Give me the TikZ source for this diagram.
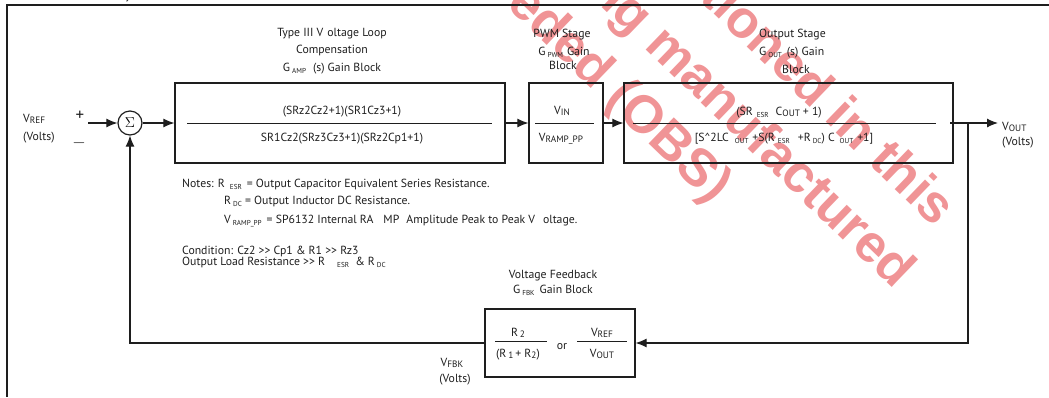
\documentclass[tikz,border=0pt]{standalone}
\usepackage{fontspec}
\setmainfont{PT Sans}
\newfontfamily\wmfont{Liberation Sans}
\usetikzlibrary{arrows.meta}
\definecolor{wmred}{RGB}{240,148,150}
\definecolor{ink}{RGB}{30,30,30}
\newcommand\sbx[1]{\raisebox{-0.45ex}{\fontsize{7.2}{7}\selectfont #1}}
\newcommand\sbm[1]{\raisebox{-0.3ex}{\fontsize{9.3}{9}\selectfont #1}}
\begin{document}
\begin{tikzpicture}[x=1bp,y=-1bp,
  txt/.style={font=\fontsize{11.8}{13}\selectfont, inner sep=0, text=ink},
  blk/.style={draw=ink, line width=1.2bp, inner sep=0},
  sig/.style={draw=ink, line width=1.1bp, -{Latex[length=11bp,width=9bp]}},
  frac/.style={draw=ink, line width=0.9bp},
  wm/.style={font=\wmfont\bfseries\fontsize{53}{53}\selectfont, text=wmred, rotate=-44, inner sep=0, anchor=base east}]
\useasboundingbox (0,0) rectangle (1049,397);
\clip (0,0) rectangle (1049,397);
% watermark
\node[wm] (w1) at (935,228) {mentioned in this};
\node[wm] (w2) at (895,290) {being manufactured};
\node[wm] (w3) at (712,205) {superseded (OBS)};
% frame
\draw[ink, line width=1.3bp] (1049,5) -- (7,5) -- (7,397);
\node[txt, anchor=base] (yfrag) at (128,-1) {y};
% blocks
\node[blk, minimum width=330bp, minimum height=80bp] (gamp) at (340,123) {};
\node[blk, minimum width=74bp, minimum height=80bp] (pwm) at (566,123) {};
\node[blk, minimum width=329bp, minimum height=80bp] (gout) at (788.5,123) {};
\node[blk, minimum width=150bp, minimum height=68bp] (fbk) at (560,343) {};
\node[blk, circle, minimum size=24bp, font=\fontsize{14}{14}\selectfont] (sum) at (130,123) {$\Sigma$};
% fraction bars
\draw[frac] (187,123) -- (492,123);
\draw[frac] (535,123) -- (594,123);
\draw[frac] (633,123) -- (936,123);
\draw[frac] (495,341) -- (547,341);
\draw[frac] (577,341) -- (627,341);
% titles
\node[txt, anchor=base] (t1) at (332,36) {Type III V\hspace{4bp}oltage Loop};
\node[txt, anchor=base] (t2) at (332,53) {Compensation};
\node[txt, anchor=base] (t3) at (332,71) {G\hspace{2bp}\sbx{AMP}\hspace{7bp}(s) Gain Block};
\node[txt, anchor=base] (p1) at (562,37) {PWM Stage};
\node[txt, anchor=base] (p2) at (564,55) {G\,\sbx{PWM}\,\,Gain};
\node[txt, anchor=base] (p3) at (563,69.5) {Block};
\node[txt, anchor=base west] (o1) at (759,37) {Output Stage};
\node[txt, anchor=base west] (o2) at (759,55) {G\,\sbx{OUT}\hspace{5bp}(s) Gain};
\node[txt, anchor=base] (o3) at (796,73) {Block};
% block contents
\node[txt, anchor=base] (gn) at (342,114) {(SRz2Cz2+1)(SR1Cz3+1)};
\node[txt, anchor=base] (gd) at (342,141) {SR1Cz2(SRz3Cz3+1)(SRz2Cp1+1)};
\node[txt, anchor=base] (pn) at (562,114) {V\sbm{IN}};
\node[txt, anchor=base] (pd) at (561,141) {V\sbm{RAMP\_PP}};
\node[txt, anchor=base] (on) at (779,115) {(SR\hspace{4bp}\sbx{ESR}\hspace{7bp}C\sbm{OUT}\hspace{3bp}+ 1)};
\node[txt, anchor=base] (od) at (784,141) {[S\textasciicircum 2LC\hspace{6bp}\sbx{OUT}\hspace{4bp}+S(R\hspace{3bp}\sbx{ESR}\hspace{8bp}+R\hspace{2bp}\sbx{DC}) C\hspace{5bp}\sbx{OUT}\hspace{4bp}+1]};
\node[txt, anchor=base] (fn1) at (518,336) {R\,\sbm{2}};
\node[txt, anchor=base] (fd1) at (518,357) {(R\,\sbm{1}\,+ R\sbm{2})};
\node[txt, anchor=base] (for) at (562,349) {or};
\node[txt, anchor=base] (fn2) at (602,336) {V\sbm{REF}};
\node[txt, anchor=base] (fd2) at (602,357) {V\sbm{OUT}};
% io labels
\node[txt, anchor=base west] (vref) at (23,122) {V\sbm{REF}};
\node[txt, anchor=base west] (vrefu) at (23,140) {(Volts)};
\node[txt, font=\fontsize{17}{17}\selectfont] (plus) at (80,116) {+};
\node[txt, font=\fontsize{17}{17}\selectfont] (minus) at (79,143) {$-$};
\node[txt, anchor=base west] (vout) at (1002,130) {V\sbm{OUT}};
\node[txt, anchor=base west] (voutu) at (1002,145) {(Volts)};
\node[txt, anchor=base] (vfbk) at (452,366) {V\sbm{FBK}};
\node[txt, anchor=base] (vfbku) at (455,382) {(Volts)};
\node[txt, anchor=base] (fb1) at (553,278) {Voltage Feedback};
\node[txt, anchor=base] (fb2) at (553,293) {G\,\sbx{FBK}\hspace{5bp}Gain Block};
% notes
\node[txt, anchor=base west] (n1) at (182,187) {Notes: R\hspace{5bp}\sbx{ESR}\hspace{5bp}= Output Capacitor Equivalent Series Resistance.};
\node[txt, anchor=base west] (n2) at (224,204) {R\,\sbx{DC}\ = Output Inductor DC Resistance.};
\node[txt, anchor=base west] (n3) at (224,223) {V\,\sbx{RAMP\_PP}\hspace{5bp}= SP6132 Internal RA\hspace{10bp}MP\hspace{4bp} Amplitude Peak to Peak V\hspace{8bp}oltage.};
\node[txt, anchor=base west] (n4) at (182,254) {Condition: Cz2 >{}> Cp1 \& R1 >{}> Rz3};
\node[txt, anchor=base west] (n5) at (182,265) {Output Load Resistance >{}> R\hspace{12bp}\sbx{ESR}\hspace{3bp} \& R\,\sbx{DC}};
% connectors
\coordinate (inp) at (88,123);
\coordinate (ostart) at (950,123);
\coordinate (oend) at (998,123);
\coordinate (br) at (968,123);
\draw[sig] (inp) -- (sum.west);
\draw[sig] (sum.east) -- (gamp.west);
\draw[sig] (gamp.east) -- (pwm.west);
\draw[sig] (pwm.east) -- (gout.west);
\draw[sig] (ostart) -- (oend);
\draw[sig] (br) |- (fbk.east);
\draw[sig] (fbk.west) -| (sum.south);
\end{tikzpicture}
\end{document}
